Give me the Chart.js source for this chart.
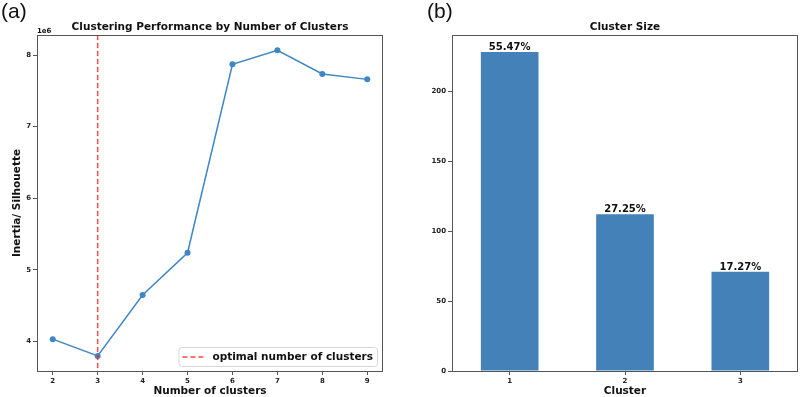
<!DOCTYPE html>
<html>
<head>
<meta charset="utf-8">
<script src="https://cdn.jsdelivr.net/npm/chart.js@4/dist/chart.umd.min.js"></script>
<style>
    body { margin: 0; background: #fff; }
    .panel { position: absolute; top: 0; width: 400px; height: 397px; }
</style>
</head>
<body>
<div class="panel" style="left:0"><canvas id="elbow-chart" width="400" height="397"></canvas></div>
<div class="panel" style="left:400px"><canvas id="size-chart" width="400" height="397"></canvas></div>
<script>
const clusterCounts = [2, 3, 4, 5, 6, 7, 8, 9]
const inertiaValues = [4030000, 3795000, 4647000, 5237000, 7870000, 8066000, 7735000, 7660000]
const inertiaTicks = [4000000, 5000000, 6000000, 7000000, 8000000]
const optimalK = 3

const clusterLabels = ['1', '2', '3']
const clusterSizes = [228, 112, 71]
const sizeTicks = [0, 50, 100, 150, 200]

Chart.defaults.font.family = '"DejaVu Sans", sans-serif'
Chart.defaults.color = '#222'

const frameColor = '#555'
const lineColor = '#3f86c4'
const tickFont = { size: 7, weight: 'bold' }
const labelFont = { size: 10.5, weight: 'bold', lineHeight: 1.15 }

function fixWidth(w) {
    return scale => { scale.width = w }
}
function fixHeight(h) {
    return scale => { scale.height = h }
}

// frame, panel letter and title drawn on top of each chart
function panelDecor(letter, title) {
    return {
        id: 'panelDecor' + letter,
        afterDraw(chart) {
            const ctx = chart.ctx
            const area = chart.chartArea
            ctx.save()
            ctx.strokeStyle = frameColor
            ctx.lineWidth = 1
            ctx.strokeRect(area.left + 0.5, area.top + 0.5, area.width - 1, area.height)

            ctx.fillStyle = '#111'
            ctx.font = 'bold 10.5px "DejaVu Sans"'
            ctx.textAlign = 'center'
            ctx.textBaseline = 'alphabetic'
            ctx.fillText(title, (area.left + area.right) / 2, area.top - 5)

            ctx.font = '21px "Liberation Sans"'
            ctx.textAlign = 'left'
            ctx.fillText(letter, letter === '(a)' ? 1 : 27, 18)
            ctx.restore()
        }
    }
}

const elbowExtras = {
    id: 'elbowExtras',
    afterDatasetsDraw(chart) {
        const ctx = chart.ctx
        const area = chart.chartArea
        const x = chart.scales.x.getPixelForValue(optimalK)
        ctx.save()
        ctx.strokeStyle = 'rgba(255, 30, 30, 0.8)'
        ctx.lineWidth = 1.5
        ctx.setLineDash([5, 3])
        ctx.beginPath()
        ctx.moveTo(x, area.top)
        ctx.lineTo(x, area.bottom)
        ctx.stroke()
        ctx.setLineDash([])

        // legend box in the lower right corner
        const text = 'optimal number of clusters'
        ctx.font = 'bold 10.5px "DejaVu Sans"'
        const tw = ctx.measureText(text).width
        const boxW = tw + 38
        const boxH = 19
        const bx = area.right - 6 - boxW
        const by = area.bottom - 5 - boxH
        ctx.fillStyle = 'rgba(255,255,255,0.85)'
        ctx.strokeStyle = '#d6d6d6'
        ctx.lineWidth = 1
        ctx.beginPath()
        ctx.roundRect(bx + 0.5, by + 0.5, boxW, boxH, 3)
        ctx.fill()
        ctx.stroke()

        ctx.strokeStyle = 'rgba(255, 30, 30, 0.8)'
        ctx.lineWidth = 1.5
        ctx.setLineDash([5, 3])
        ctx.beginPath()
        ctx.moveTo(bx + 4, by + boxH / 2 + 0.5)
        ctx.lineTo(bx + 27, by + boxH / 2 + 0.5)
        ctx.stroke()
        ctx.setLineDash([])

        ctx.fillStyle = '#111'
        ctx.textAlign = 'left'
        ctx.textBaseline = 'middle'
        ctx.fillText(text, bx + 34, by + boxH / 2 + 1)

        // offset text of the y axis
        ctx.font = 'bold 7px "DejaVu Sans"'
        ctx.textBaseline = 'alphabetic'
        ctx.fillText('1e6', area.left, area.top - 2)
        ctx.restore()
    }
}

const barLabels = {
    id: 'barLabels',
    afterDatasetsDraw(chart) {
        const ctx = chart.ctx
        const total = clusterSizes.reduce((a, b) => a + b, 0)
        const meta = chart.getDatasetMeta(0)
        ctx.save()
        ctx.fillStyle = '#111'
        ctx.font = 'bold 10px "DejaVu Sans"'
        ctx.textAlign = 'center'
        ctx.textBaseline = 'alphabetic'
        meta.data.forEach((bar, i) => {
            const pct = (clusterSizes[i] / total * 100).toFixed(2) + '%'
            ctx.fillText(pct, bar.x, bar.y - 2)
        })
        ctx.restore()
    }
}

const elbowChart = new Chart(document.getElementById('elbow-chart').getContext('2d'), {
    type: 'line',
    data: {
        labels: clusterCounts,
        datasets: [{
            data: inertiaValues,
            borderColor: lineColor,
            backgroundColor: lineColor,
            borderWidth: 1.5,
            pointRadius: 3,
            pointBorderWidth: 0,
            tension: 0
        }]
    },
    options: {
        responsive: false,
        animation: false,
        layout: { padding: { left: 0, top: 35, right: 17, bottom: 0 } },
        plugins: { legend: { display: false }, tooltip: { enabled: false } },
        scales: {
            x: {
                type: 'linear',
                min: 1.65,
                max: 9.35,
                afterBuildTicks: scale => { scale.ticks = clusterCounts.map(v => ({ value: v })) },
                afterFit: fixHeight(26),
                ticks: { font: tickFont, color: '#222', padding: 2, maxRotation: 0 },
                grid: { drawOnChartArea: false, drawTicks: true, tickLength: 4, color: frameColor },
                border: { display: false },
                title: { display: true, text: 'Number of clusters', font: labelFont, color: '#111', padding: 0 }
            },
            y: {
                min: 3585000,
                max: 8280000,
                afterBuildTicks: scale => { scale.ticks = inertiaTicks.map(v => ({ value: v })) },
                afterFit: fixWidth(37),
                ticks: { font: tickFont, color: '#222', padding: 2, callback: v => String(v / 1e6) },
                grid: { drawOnChartArea: false, drawTicks: true, tickLength: 4, color: frameColor },
                border: { display: false },
                title: { display: true, text: 'Inertia/ Silhouette', font: labelFont, color: '#111', padding: { top: 11, bottom: 0 } }
            }
        }
    },
    plugins: [elbowExtras, panelDecor('(a)', 'Clustering Performance by Number of Clusters')]
})

const sizeChart = new Chart(document.getElementById('size-chart').getContext('2d'), {
    type: 'bar',
    data: {
        labels: clusterLabels,
        datasets: [{
            data: clusterSizes,
            backgroundColor: '#4481b8',
            borderWidth: 0,
            categoryPercentage: 0.5,
            barPercentage: 1
        }]
    },
    options: {
        responsive: false,
        animation: false,
        layout: { padding: { left: 0, top: 35, right: 2, bottom: 0 } },
        plugins: { legend: { display: false }, tooltip: { enabled: false } },
        scales: {
            x: {
                afterFit: fixHeight(26),
                ticks: { font: tickFont, color: '#222', padding: 2, maxRotation: 0 },
                grid: { offset: false, drawOnChartArea: false, drawTicks: true, tickLength: 4, color: frameColor },
                border: { display: false },
                title: { display: true, text: 'Cluster', font: labelFont, color: '#111', padding: 0 }
            },
            y: {
                min: 0,
                max: 240.2,
                afterBuildTicks: scale => { scale.ticks = sizeTicks.map(v => ({ value: v })) },
                afterFit: fixWidth(52),
                ticks: { font: tickFont, color: '#222', padding: 2 },
                grid: { drawOnChartArea: false, drawTicks: true, tickLength: 4, color: frameColor },
                border: { display: false }
            }
        }
    },
    plugins: [barLabels, panelDecor('(b)', 'Cluster Size')]
})
</script>
</body>
</html>
